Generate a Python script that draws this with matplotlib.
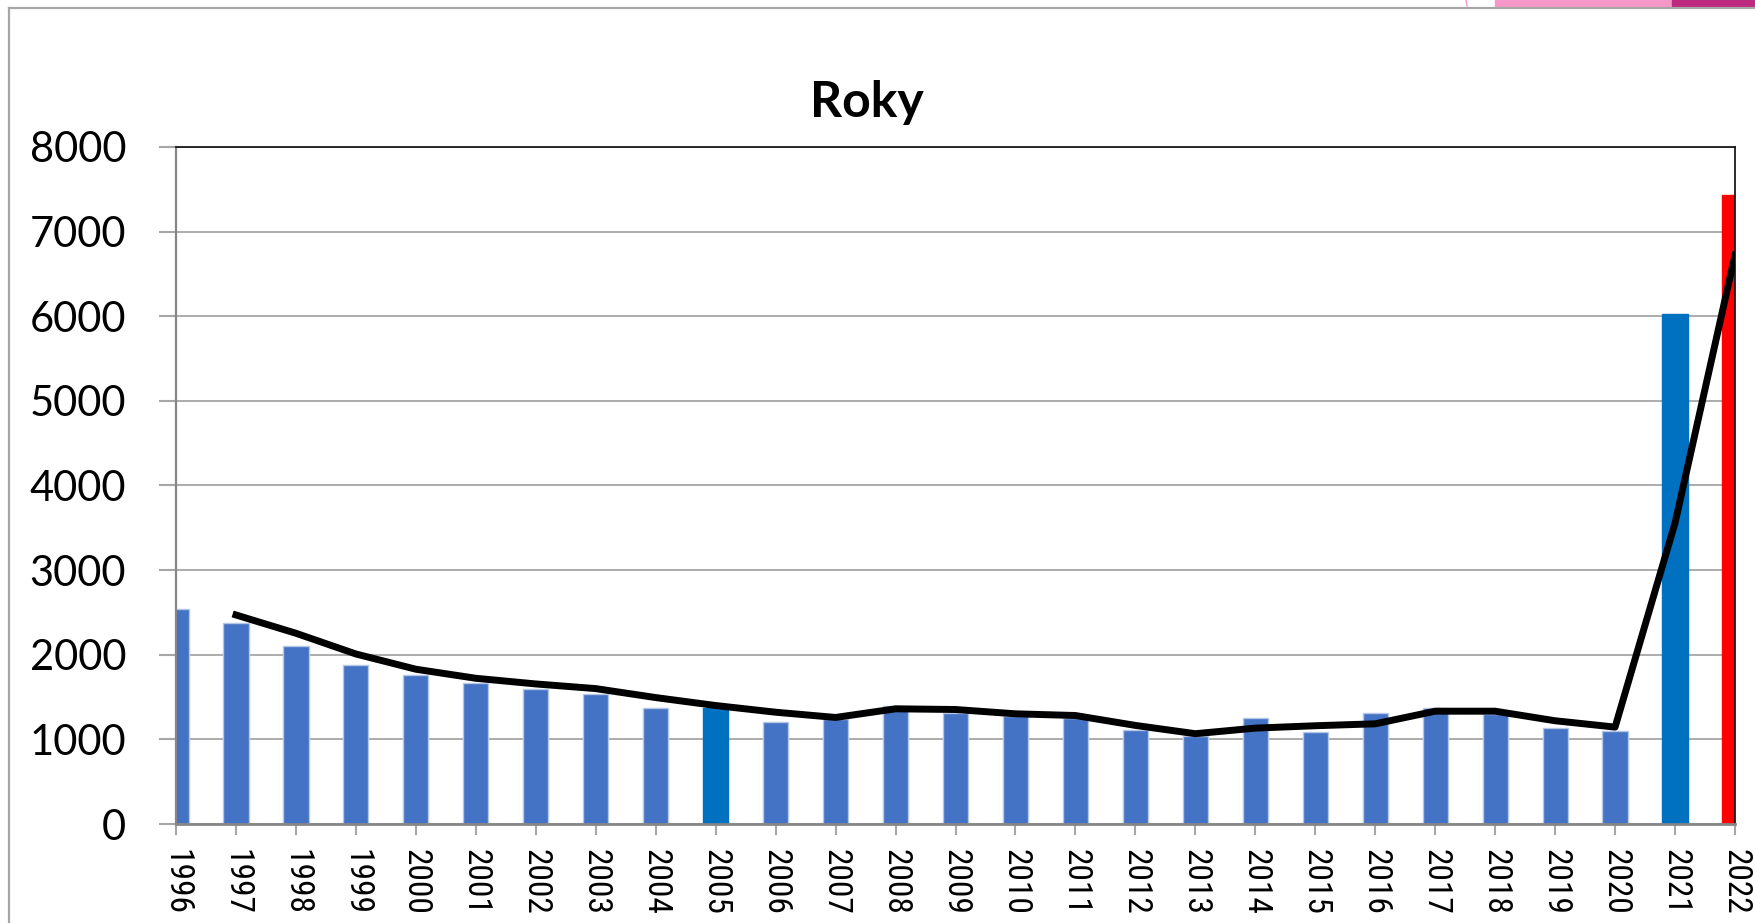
import matplotlib

matplotlib.use("Agg")

import matplotlib.pyplot as plt  # noqa: E402
from matplotlib import font_manager  # noqa: E402
from matplotlib.lines import Line2D  # noqa: E402
from matplotlib.patches import Rectangle  # noqa: E402

# values
YEARS = list(range(1996, 2023))
COUNTS = [2541, 2376, 2104, 1880, 1761, 1667, 1590, 1541, 1370, 1365,
          1200, 1240, 1400, 1310, 1280, 1250, 1106, 1040, 1247, 1082,
          1306, 1376, 1300, 1139, 1104, 6025, 7432]
TREND_YEARS = YEARS[1:]
TREND = [2470, 2254, 2009, 1829, 1722, 1655, 1600, 1494, 1400, 1321,
         1259, 1361, 1353, 1302, 1282, 1165, 1067, 1133, 1161, 1184,
         1333, 1333, 1220, 1145, 3556, 6723]
Y_TICKS = [0, 1000, 2000, 3000, 4000, 5000, 6000, 7000, 8000]
TITLE = "Roky"

BAR = "#4472c4"
BAR_EDGE = "#b4c7e7"
HIGHLIGHT = {2005: "#0070c0", 2021: "#0070c0", 2022: "#ff0000"}
GRID = "#a6a6a6"
AXIS = "#868686"

W, H, DPI = 1755, 923, 100


def _narrow_font():
    names = {f.name for f in font_manager.fontManager.ttflist}
    for name in ("Liberation Sans Narrow", "Arial Narrow", "Roboto Condensed",
                 "DejaVu Sans Condensed", "Open Sans Condensed"):
        if name in names:
            return name, 24
    return "Lato", 20


x_font, x_size = _narrow_font()

fig = plt.figure(figsize=(W / DPI, H / DPI), dpi=DPI)
ax = fig.add_axes([176 / W, 1 - 824 / H, (1735 - 176) / W, (824 - 147) / H])

colors = [HIGHLIGHT.get(y, BAR) for y in YEARS]
edges = [BAR_EDGE if y not in HIGHLIGHT else c for y, c in zip(YEARS, colors)]
ax.bar(YEARS, COUNTS, width=0.42, color=colors, edgecolor=edges,
       linewidth=1.0, zorder=2)
ax.plot(TREND_YEARS, TREND, color="black", linewidth=5.0, zorder=3,
        solid_joinstyle="round")

ax.set_xlim(1996, 2022)
ax.set_ylim(0, 8000)
ax.set_yticks(Y_TICKS)
ax.set_yticklabels([str(v) for v in Y_TICKS], family=["Lato", "DejaVu Sans"],
                   fontsize=30)
ax.set_xticks(YEARS)
ax.set_xticklabels([str(y) for y in YEARS], rotation=-90, fontsize=x_size,
                   family=[x_font, "DejaVu Sans"], va="top", ha="center")
ax.tick_params(axis="y", length=12, width=1.5, color=GRID, pad=24)
ax.tick_params(axis="x", length=8, width=1.5, color=GRID, pad=10)
ax.grid(axis="y", color=GRID, linewidth=1.3)
ax.set_axisbelow(True)

ax.spines["left"].set_color(AXIS)
ax.spines["left"].set_linewidth(1.6)
ax.spines["bottom"].set_color(AXIS)
ax.spines["bottom"].set_linewidth(2.0)
ax.spines["bottom"].set_zorder(4)
ax.spines["top"].set_color("#1a1a1a")
ax.spines["top"].set_linewidth(1.3)
ax.spines["right"].set_color("#1a1a1a")
ax.spines["right"].set_linewidth(1.3)

fig.text(867 / W, 1 - 117 / H, TITLE, ha="center", va="baseline",
         fontsize=36, fontweight="bold", family=["Lato", "DejaVu Sans"])

# slide frame and the pink strip at the top right
fig.add_artist(Line2D([9 / W, 9 / W], [0, 1 - 8 / H], color=GRID,
                      linewidth=1.6, transform=fig.transFigure))
fig.add_artist(Line2D([9 / W, 1], [1 - 8 / H, 1 - 8 / H], color=GRID,
                      linewidth=1.6, transform=fig.transFigure))
fig.add_artist(Rectangle((1495 / W, 1 - 6 / H), (1672 - 1495) / W, 6 / H,
                         color="#f598c8", transform=fig.transFigure))
fig.add_artist(Rectangle((1672 / W, 1 - 6 / H), (W - 1672) / W, 6 / H,
                         color="#be2a80", transform=fig.transFigure))
fig.add_artist(Line2D([1466 / W, 1467 / W], [1, 1 - 6 / H], color="#f598c8",
                      linewidth=1.0, transform=fig.transFigure))

fig.savefig("out.png", dpi=DPI, facecolor="white")
